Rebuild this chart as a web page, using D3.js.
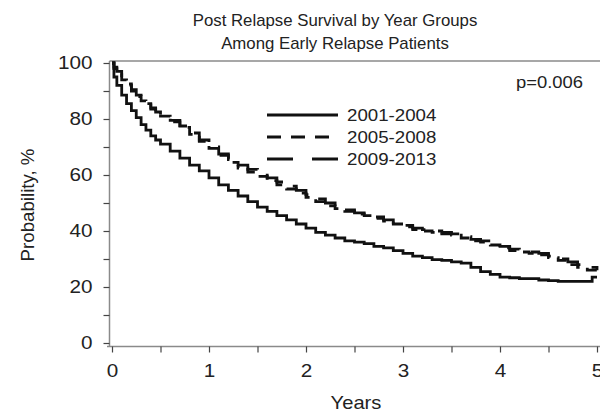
<!DOCTYPE html>
<html>
<head>
<meta charset="utf-8">
<script src="https://cdn.jsdelivr.net/npm/d3@7"></script>
<style>
  body { margin: 0; background: #fff; }
  text { font-family: "Liberation Sans", Arial, sans-serif; fill: #222; }
</style>
</head>
<body>
<div id="chart"></div>
<script>
// chart data
const titleLines = ["Post Relapse Survival by Year Groups", "Among Early Relapse Patients"];
const groups = ["2001-2004", "2005-2008", "2009-2013"];

// 2001-2004
const t1 = [0, 0.02, 0.05, 0.1, 0.15, 0.2, 0.25, 0.3, 0.35, 0.4, 0.45, 0.5, 0.6, 0.7, 0.8, 0.9, 1.0,
    1.1, 1.2, 1.3, 1.4, 1.5, 1.6, 1.7, 1.8, 1.9, 2.0, 2.1, 2.2, 2.3, 2.4, 2.5, 2.6, 2.7, 2.8, 2.9, 3.0,
    3.1, 3.2, 3.3, 3.4, 3.5, 3.6, 3.7, 3.8, 3.9, 4.0, 4.1, 4.2, 4.3, 4.4, 4.5, 4.6, 4.8, 4.95, 5.0];
const s1 = [100, 95, 92, 88.5, 85.5, 83, 80.5, 78, 76, 74, 72.5, 71, 68.5, 66, 63.5, 61.5, 59,
    56.5, 54.5, 52.5, 50.5, 48.5, 47, 45.5, 44, 42.5, 41, 39.5, 38.5, 37.5, 36.5, 36, 35.5, 34.5, 34, 33, 32,
    31, 30.5, 29.8, 29.5, 29, 28.5, 27, 25.5, 24.5, 23.5, 23.3, 23, 23, 22.5, 22.3, 22, 22, 23.5, 23.5];

// 2005-2008 and 2009-2013 share the same time points
const t2 = [0, 0.02, 0.05, 0.1, 0.15, 0.2, 0.25, 0.3, 0.35, 0.4, 0.45, 0.5, 0.6, 0.7, 0.8, 0.9, 1.0,
    1.1, 1.2, 1.3, 1.4, 1.5, 1.6, 1.7, 1.8, 1.9, 2.0, 2.1, 2.2, 2.3, 2.4, 2.5, 2.6, 2.7, 2.8, 2.9, 3.0,
    3.1, 3.2, 3.3, 3.4, 3.5, 3.6, 3.7, 3.8, 3.9, 4.0, 4.1, 4.2, 4.3, 4.4, 4.5, 4.6, 4.7, 4.8, 4.9, 5.0];
const s2 = [100, 98, 96.5, 94, 92, 90, 88, 86.5, 85, 83.5, 82, 81, 79, 77, 74.5, 72, 69.5,
    67, 64.5, 62.5, 61, 59.5, 58, 56.5, 55, 53.5, 52, 50.5, 49, 48, 47, 46, 45.5, 44.5, 43.5, 42.5, 41.5,
    40.5, 40, 39.5, 39, 38.5, 37.5, 36.5, 36, 35, 34, 33, 32.5, 32, 31.5, 30.5, 29.5, 28, 27, 26, 25];
const s3 = [100, 98.5, 97, 94.5, 92.5, 90.5, 88.5, 87, 85.5, 84, 82.5, 81.5, 79.5, 77.5, 75, 72.5, 70,
    67.5, 65.5, 63.5, 62, 60.5, 59, 57.5, 56, 54.5, 53, 51.5, 50, 48.5, 47.5, 46.5, 46, 45, 44, 43, 42,
    41, 40.5, 40, 39.5, 39, 38, 37, 36.5, 35.5, 34.5, 33.5, 33, 32.5, 32, 31, 30, 29, 28, 27, 26];

const xTicks = [0, 1, 2, 3, 4, 5];
const yTicks = [0, 20, 40, 60, 80, 100];
const pText = "p=0.006";

// layout
const W = 600, H = 414;
const svg = d3.select("#chart").append("svg")
    .attr("width", W).attr("height", H);

const x = d3.scaleLinear().domain([0, 5]).range([112, 597]);
const y = d3.scaleLinear().domain([0, 100]).range([343, 63]);

const series = [
    t1.map((t, i) => ({ t, v: s1[i] })),
    t2.map((t, i) => ({ t, v: s2[i] })),
    t2.map((t, i) => ({ t, v: s3[i] }))
];
const curveDash = [null, "12,8", "24,14"];
const legendDash = [null, "14,10", "26,19"];

// the original picture is a bit stretched sideways, so text gets a small x-scale
function label(x0, y0, txt, size, sx, anchor) {
    return svg.append("text")
        .attr("transform", `translate(${x0},${y0}) scale(${sx},1)`)
        .attr("text-anchor", anchor || "start")
        .style("font-size", size + "px")
        .text(txt);
}

// frame top line and axes
const axisColor = "#8a8a8a";
svg.append("line").attr("x1", 109.5).attr("x2", 600).attr("y1", 61).attr("y2", 61)
    .attr("stroke", axisColor).attr("stroke-width", 1.5);

const yAxis = svg.append("g").attr("transform", "translate(109.5,0)")
    .call(d3.axisLeft(y).tickValues(d3.range(0, 101, 10)).tickSize(6)
        .tickFormat(d => yTicks.includes(d) ? d : ""));
const xAxis = svg.append("g").attr("transform", "translate(0,346.5)")
    .call(d3.axisBottom(x).tickValues(d3.range(0, 5.01, 0.5)).tickSize(6)
        .tickFormat(d => xTicks.includes(d) ? d : ""));

[yAxis, xAxis].forEach(g => {
    g.select(".domain").attr("stroke", axisColor).attr("stroke-width", 1.5);
    g.selectAll(".tick line").attr("stroke", "#444").attr("stroke-width", 1.2);
    g.selectAll(".tick text").style("font-size", "18px")
        .style("font-family", "Liberation Sans, Arial, sans-serif").attr("fill", "#222");
});
yAxis.select(".domain").attr("d", "M0,346.5V61");
xAxis.select(".domain").attr("d", "M107,0H600");
yAxis.selectAll(".tick text").attr("x", 0).attr("transform", "translate(-17,0) scale(1.15,1)");
xAxis.selectAll(".tick text").attr("y", 18).attr("transform", "scale(1.15,1)");

// survival curves
const line = d3.line().x(d => x(d.t)).y(d => y(d.v)).curve(d3.curveStepAfter);
series.forEach((s, i) => {
    svg.append("path").datum(s)
        .attr("fill", "none")
        .attr("stroke", "#111")
        .attr("stroke-width", 2.8)
        .attr("stroke-dasharray", curveDash[i])
        .attr("d", line);
});

// titles and labels
titleLines.forEach((t, i) => label(335, 26 + i * 23, t, 16, 1.05, "middle"));
label(356, 409, "Years", 18, 1.12, "middle");
svg.append("text")
    .attr("transform", "translate(34,205) rotate(-90) scale(1.1,1.1)")
    .attr("text-anchor", "middle").style("font-size", "17px")
    .text("Probability, %");
label(583, 88, pText, 16, 1.15, "end");

// legend
const legend = svg.append("g").attr("transform", "translate(267,115)");
groups.forEach((g, i) => {
    legend.append("line")
        .attr("x1", 0).attr("x2", 71).attr("y1", i * 22).attr("y2", i * 22)
        .attr("stroke", "#111").attr("stroke-width", 2.8)
        .attr("stroke-dasharray", legendDash[i]);
    legend.append("text")
        .attr("transform", `translate(80,${i * 22 + 6}) scale(1.1,1)`)
        .style("font-size", "17px").text(g);
});
</script>
</body>
</html>
